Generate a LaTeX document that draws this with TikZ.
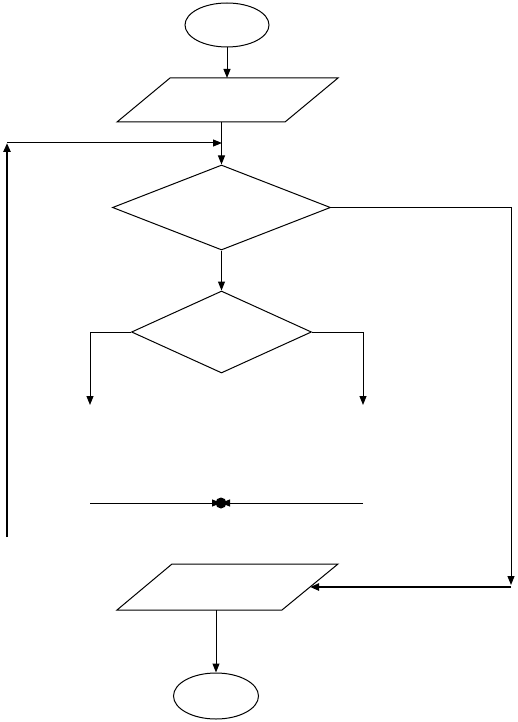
\documentclass[tikz,border=0pt]{standalone}
\usepackage{tikz}
\usetikzlibrary{arrows.meta,positioning,shapes.geometric}

\begin{document}
\begin{tikzpicture}[x=1pt,y=-1pt,line width=1pt,
        term/.style={ellipse,draw,inner sep=0pt,minimum width=84pt,minimum height=44pt},
        decision/.style={diamond,draw,inner sep=0pt},
        junction/.style={circle,fill,inner sep=0pt,minimum size=11pt},
        arrow/.style={-{Triangle[length=9pt,width=7pt]}},
        heavy/.style={arrow,line width=2.2pt}]
        \useasboundingbox (0,0) rectangle (517,722);
        \node[term] (start) at (227,25) {};
        % input parallelogram
        \coordinate (inNW) at (170,78);
        \coordinate (inNE) at (338,78);
        \coordinate (inSE) at (285,122);
        \coordinate (inSW) at (117,122);
        \draw (inNW) -- (inNE) -- (inSE) -- (inSW) -- cycle;
        \coordinate (merge) at (222,143);
        \node[decision,minimum width=218pt,minimum height=85pt] (test) at (221.5,207.5) {};
        \node[decision,minimum width=180pt,minimum height=82pt] (choice) at (221.5,332) {};
        \node[junction] (join) at (221,503) {};
        % output parallelogram
        \coordinate (outNW) at (172,564);
        \coordinate (outNE) at (338,564);
        \coordinate (outSE) at (282,610);
        \coordinate (outSW) at (117,610);
        \coordinate (outE) at (310,587);
        \draw (outNW) -- (outNE) -- (outSE) -- (outSW) -- cycle;
        \node[term,minimum width=85pt,minimum height=46pt] (stop) at (216,696) {};
        % free ends
        \coordinate (ltop) at (7,143);
        \coordinate (lbot) at (7,537);
        \coordinate (rdown) at (511,585);
        \coordinate (rback) at (511,587);
        \coordinate (lend) at (90,405);
        \coordinate (rend) at (363,405);
        \coordinate (lin) at (90,503);
        \coordinate (rin) at (363,503);
        % connectors
        \draw[arrow] (start) -- (start.south |- inNW);
        \draw[arrow] (test.north |- inSW) -- (test.north);
        \draw[heavy] (lbot) -- (ltop);
        \draw[arrow] (ltop) -- (merge);
        \draw[arrow] (test.east) -| (rdown);
        \draw[heavy] (rback) -- (outE);
        \draw[arrow] (test.south) -- (choice.north);
        \draw[arrow] (choice.west) -| (lend);
        \draw[arrow] (choice.east) -| (rend);
        \draw[arrow] (lin) -- (join.center);
        \draw[arrow] (rin) -- (join.center);
        \draw[arrow] (stop.north |- outSW) -- (stop.north);
      \end{tikzpicture}
\end{document}
